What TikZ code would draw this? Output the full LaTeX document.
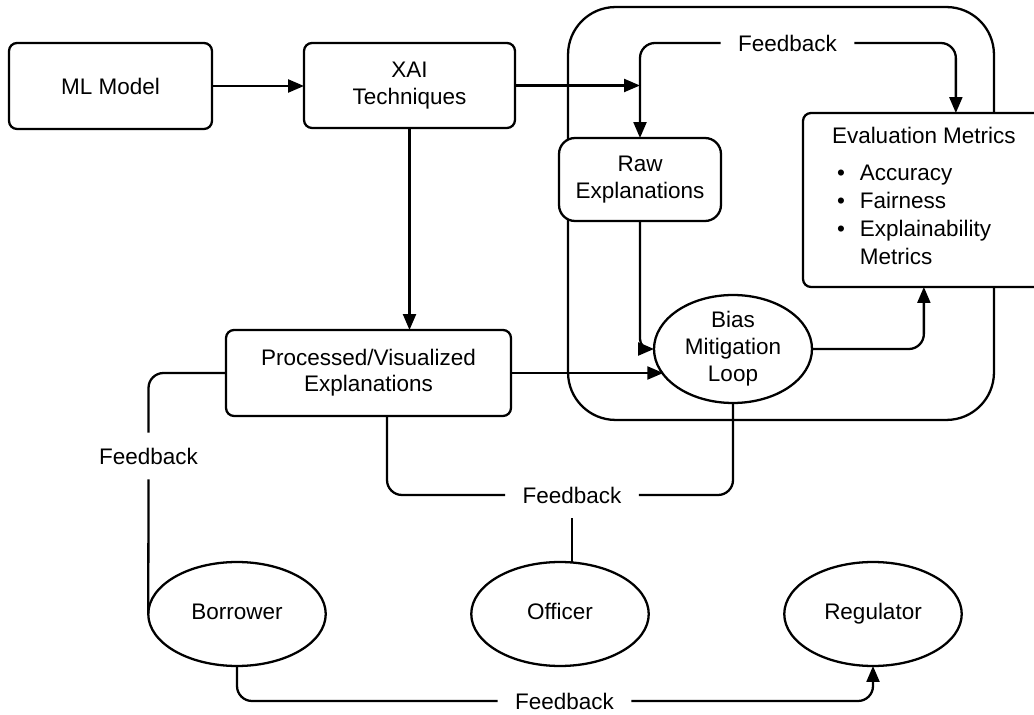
\documentclass[tikz,border=0pt]{standalone}
\usepackage{fontspec}
\setmainfont{Liberation Sans}
\usepackage{tikz}
\usetikzlibrary{arrows.meta,shapes.geometric}
\def\linew{1.3pt}

\begin{document}
\begin{tikzpicture}[x=0.02cm,y=-0.02cm,line width=\linew,
    >={Triangle[length=3.2mm,width=2.6mm]},
    font=\fontsize{12.8}{15}\selectfont]
    \tikzstyle{box}=[draw,fill=white,rectangle,rounded corners=0.16cm,outer sep=0pt,align=center]
    \tikzstyle{party}=[draw,ellipse,outer sep=0pt,inner sep=0pt,text height=9pt,text depth=2.7pt,
        minimum width=3.55cm,minimum height=2.08cm]
    \tikzstyle{fb}=[minimum width=2.68cm,minimum height=0.94cm,outer sep=0pt,inner sep=0pt]
    \tikzstyle{flow}=[->,rounded corners=0.3cm]
    \tikzstyle{link}=[rounded corners=0.3cm]

    \useasboundingbox (0,0) rectangle (1034,715);
    \clip (0,0) rectangle (1034,715);

    % Frame round the evaluation loop
    \node[draw,rectangle,rounded corners=0.95cm,outer sep=0pt,
        minimum width=8.52cm,minimum height=8.26cm] (frame) at (781,213.5) {};

    % Pipeline boxes
    \node[box,minimum width=4.06cm,minimum height=1.72cm] (model) at (110.5,86) {ML Model};
    \node[box,minimum width=4.22cm,minimum height=1.70cm] (xai) at (409.5,85.5) {XAI\\Techniques};
    \node[box,rounded corners=0.32cm,minimum width=3.24cm,minimum height=1.66cm] (raw) at (640,179.5) {Raw\\Explanations};
    \node[box,minimum width=5.70cm,minimum height=1.72cm] (proc) at (368.5,373) {Processed/Visualized\\Explanations};
    \node[box,align=left,inner xsep=0.58cm,minimum width=4.76cm,minimum height=3.48cm,anchor=west] (eval) at (803,200)
        {Evaluation Metrics\\[6pt]
        \renewcommand{\arraystretch}{1.07}%
        \begin{tabular}[t]{@{\hspace{0.1cm}}l@{\hspace{0.3cm}}l@{}}
        \textbullet & Accuracy\\
        \textbullet & Fairness\\
        \textbullet & Explainability\\
                    & Metrics
        \end{tabular}};
    \node[draw,fill=white,ellipse,outer sep=0pt,inner sep=0pt,align=center,
        font=\fontsize{12.8}{15.4}\selectfont,
        minimum width=3.16cm,minimum height=2.16cm] (bias) at (733,349) {Bias\\Mitigation\\Loop};

    % Stakeholders
    \node[party] (borrower) at (237,614) {Borrower};
    \node[party] (officer) at (560,614) {Officer};
    \node[party] (regulator) at (873,614) {Regulator};

    % Feedback labels
    \node[fb] (fbtop) at (787.5,43) {Feedback};
    \node[fb] (fbleft) at (148.5,456) {Feedback};
    \node[fb] (fbmid) at (572,495) {Feedback};
    \node[fb] (fbbot) at (564.5,701) {Feedback};

    % Main flow
    \draw[->] (model.east) -- (model.east -| xai.west);
    \draw[->] (xai.south) -- (xai.south |- proc.north);
    \draw[->] (xai.east) -- (xai.east -| raw.north);
    \draw[->,rounded corners=0.2cm] (raw.south) |- (bias.west);
    \draw[->] (proc.east) -- (proc.east -| bias.200);
    \draw[flow] (bias.east) -| (eval.south);

    % Feedback paths
    \draw[flow] (fbtop.west) -| (raw.north);
    \draw[flow] (fbtop.east) -| ([xshift=0.64cm]eval.north);
    \draw[link] (proc.west) -| (fbleft.north);
    \draw (fbleft.south) -- (borrower.west);
    \draw[link] ([xshift=0.37cm]proc.south) |- (fbmid.west);
    \draw[link] (bias.south) |- (fbmid.east);
    \draw (fbmid.south) -- (fbmid.south |- officer.north);
    \draw[link] (borrower.south) |- (fbbot.west);
    \draw[flow] (fbbot.east) -| (regulator.south);

\end{tikzpicture}
\end{document}
